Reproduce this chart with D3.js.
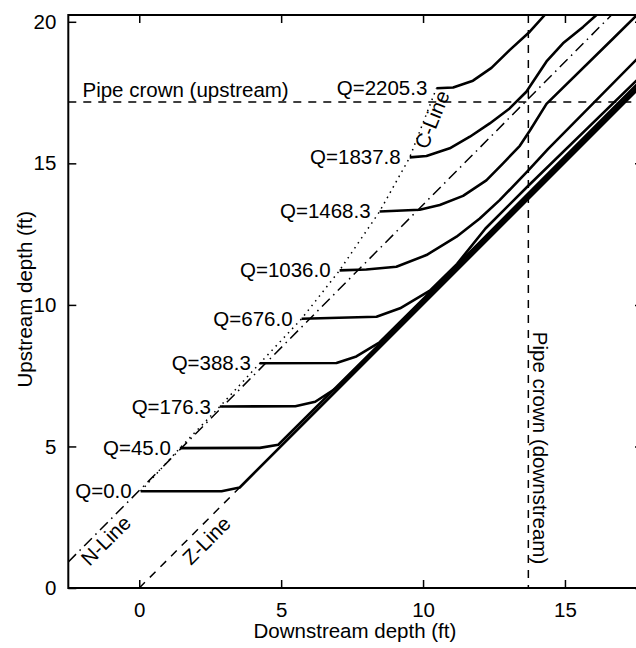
<!DOCTYPE html>
<html>
<head>
<meta charset="utf-8">
<script src="https://cdn.jsdelivr.net/npm/d3@7"></script>
<style>
  body { margin:0; background:#fff; }
  svg text { font-family: "Liberation Sans", Arial, sans-serif; font-size:20.5px; fill:#000; }
  .curve { fill:none; stroke:#000; stroke-width:2.6; stroke-linejoin:round; }
  .guide { fill:none; stroke:#000; stroke-width:1.5; }
</style>
</head>
<body>
<svg id="chart"></svg>
<script>
// flow rates (cfs) for each rating curve
var flows = [0, 45, 176.3, 388.3, 676, 1036, 1468.3, 1837.8, 2205.3];

// [downstream depth, upstream depth], one array per flow
var q0    = [[0.05,3.42],[2.9,3.42],[3.54,3.55],[17.75,17.8]];
var q45   = [[1.43,4.94],[4.25,4.95],[4.9,5.06],[17.75,17.85]];
var q176  = [[2.84,6.41],[5.5,6.42],[6.2,6.58],[7.0,7.1],[17.75,17.9]];
var q388  = [[4.25,7.94],[6.95,7.95],[7.65,8.18],[8.47,8.68],[10.0,10.2],[17.75,18.0]];
var q676  = [[5.72,9.51],[8.36,9.58],[9.19,9.88],[10.24,10.5],[11.2,11.45],[12.2,12.7],[13.7,14.2],[17.75,18.15]];
var q1036 = [[7.06,11.22],[8.0,11.25],[9.06,11.35],[10.12,11.76],[11.18,12.41],[12.0,13.05],[12.7,13.7],[13.71,14.75],[14.4,15.5],[17.75,18.9]];
var q1468 = [[8.47,13.3],[9.88,13.36],[10.59,13.53],[11.41,13.85],[12.23,14.4],[12.82,15.0],[13.41,15.62],[13.76,16.15],[14.35,17.1],[16.69,19.4],[17.75,20.45]];
var q1838 = [[9.53,15.21],[10.12,15.26],[10.94,15.53],[11.65,15.94],[12.35,16.41],[13.05,16.94],[13.64,17.53],[14.35,18.6],[14.93,19.24],[15.64,19.82],[16.11,20.24],[16.5,20.6]];
var q2205 = [[10.47,17.65],[11.06,17.68],[11.76,17.92],[12.41,18.37],[13.05,19.0],[13.76,19.65],[14.29,20.24],[14.6,20.6]];
var curves = [q0, q45, q176, q388, q676, q1036, q1468, q1838, q2205];

// reference lines
var nLine = [[-2.5,0.92],[16.7,20.3]];
var zLine = [[0,0],[3.54,3.55]];
var crownUp = 17.17;     // upstream pipe crown (ft)
var crownDown = 13.71;   // downstream pipe crown (ft)

var xTicks = [0,5,10,15];
var yTicks = [0,5,10,15,20];

var screen = {width:636, height:648};
var margins = {left:68.3, right:-7, top:15, bottom:60};
var graph = {
    width: screen.width - margins.left - margins.right,
    height: screen.height - margins.top - margins.bottom
};

var svg = d3.select("#chart")
    .attr("width", screen.width)
    .attr("height", screen.height);

var xScale = d3.scaleLinear().domain([-2.5,17.75]).range([0, graph.width]);
var yScale = d3.scaleLinear().domain([0,20.24]).range([graph.height, 0]);

var target = svg.append("g")
    .attr("transform", "translate(" + margins.left + "," + margins.top + ")");

svg.append("defs").append("clipPath").attr("id","clip")
    .append("rect").attr("width", graph.width).attr("height", graph.height);

var plot = target.append("g").attr("clip-path","url(#clip)");

var line = d3.line()
    .x(function(d){ return xScale(d[0]); })
    .y(function(d){ return yScale(d[1]); });

// pipe crowns
plot.append("line").classed("guide",true)
    .attr("x1",0).attr("x2",graph.width)
    .attr("y1",yScale(crownUp)).attr("y2",yScale(crownUp))
    .attr("stroke-dasharray","8,7");
plot.append("line").classed("guide",true)
    .attr("x1",xScale(crownDown)).attr("x2",xScale(crownDown))
    .attr("y1",0).attr("y2",graph.height)
    .attr("stroke-dasharray","8,7");

// N-line, Z-line, C-line
plot.append("path").classed("guide",true).attr("d", line(nLine))
    .attr("stroke-width",1.3)
    .attr("stroke-dasharray","11,5,1.5,5");
plot.append("path").classed("guide",true).attr("d", line(zLine))
    .attr("stroke-dasharray","8,7");
plot.append("path").classed("guide",true)
    .attr("d", line(curves.map(function(c){ return c[0]; })))
    .attr("stroke-width",1.6)
    .attr("stroke-dasharray","1.5,4.5");

// rating curves
plot.selectAll(".curve")
    .data(curves)
    .enter()
    .append("path")
    .classed("curve",true)
    .attr("d", line);

// curve labels
target.selectAll(".qlabel")
    .data(flows)
    .enter()
    .append("text")
    .classed("qlabel",true)
    .attr("text-anchor","end")
    .attr("x", function(d,i){ return xScale(curves[i][0][0]) - 9; })
    .attr("y", function(d,i){ return yScale(curves[i][0][1]) + 7; })
    .text(function(d){ return "Q=" + d.toFixed(1); });

// line labels
var rotLabel = function(txt, x, y, ang)
{
    target.append("text")
        .attr("text-anchor","middle")
        .attr("transform","translate(" + x + "," + y + ") rotate(" + ang + ")")
        .text(txt);
}
rotLabel("N-Line", xScale(-1.0), yScale(1.5) , -45);
rotLabel("Z-Line", xScale(2.55), yScale(1.5), -45);
rotLabel("C-Line", xScale(10.55), yScale(16.45), -68);

target.append("text")
    .attr("x", xScale(-2.0))
    .attr("y", yScale(crownUp) - 5)
    .text("Pipe crown (upstream)");
target.append("text")
    .attr("transform","translate(" + (xScale(crownDown) + 5) + "," + yScale(9.05) + ") rotate(90)")
    .text("Pipe crown (downstream)");

// axes with inward ticks on all sides
var xAxis = d3.axisBottom(xScale).tickValues(xTicks).tickSizeInner(-8).tickSizeOuter(0).tickPadding(14);
var yAxis = d3.axisLeft(yScale).tickValues(yTicks).tickSizeInner(-8).tickSizeOuter(0).tickPadding(12);

var gx = target.append("g").attr("transform","translate(0," + graph.height + ")").call(xAxis);
var gy = target.append("g").call(yAxis);
var gt = target.append("g").call(d3.axisTop(xScale).tickValues(xTicks).tickSizeInner(-8).tickSizeOuter(0).tickFormat(""));
var gr = target.append("g").attr("transform","translate(" + graph.width + ",0)")
    .call(d3.axisRight(yScale).tickValues(yTicks).tickSizeInner(-8).tickSizeOuter(0).tickFormat(""));

target.selectAll(".domain").remove();
target.selectAll(".tick line").attr("stroke","#000").attr("stroke-width",1.5);
target.selectAll("g").filter(function(){ return this.getAttribute("font-size"); })
    .attr("font-size",null).attr("font-family",null);

target.append("rect")
    .attr("width", graph.width).attr("height", graph.height)
    .attr("fill","none").attr("stroke","#000").attr("stroke-width",2);

// axis titles
target.append("text")
    .attr("text-anchor","middle")
    .attr("x", xScale(7.6))
    .attr("y", graph.height + 50)
    .text("Downstream depth (ft)");
target.append("g")
    .attr("transform","translate(" + (32 - margins.left) + "," + yScale(10.2) + ")")
    .append("text")
    .attr("text-anchor","middle")
    .attr("transform","rotate(270)")
    .text("Upstream depth (ft)");
</script>
</body>
</html>
